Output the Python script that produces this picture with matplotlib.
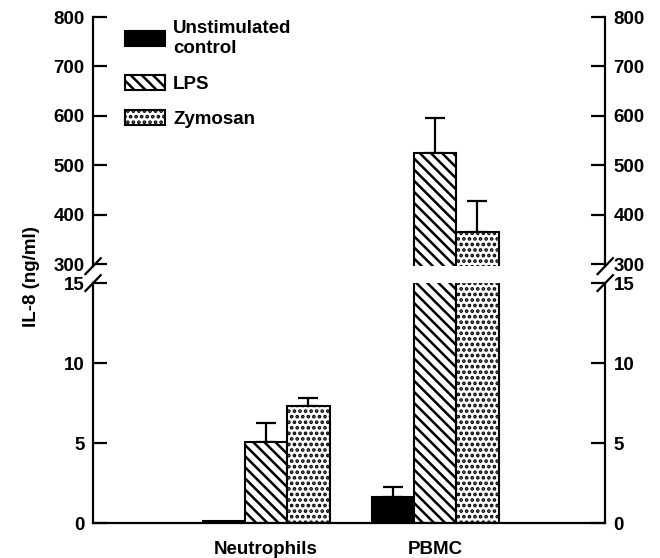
import numpy as np
import matplotlib.pyplot as plt

plt.rcParams['font.family'] = ['Liberation Sans', 'DejaVu Sans']
plt.rcParams['font.weight'] = 'bold'
plt.rcParams['hatch.linewidth'] = 1.8

# data
groups = ['Neutrophils', 'PBMC']
series = ['Unstimulated\ncontrol', 'LPS', 'Zymosan']
control = [0.1, 1.65]
control_err = [0.0, 0.6]
lps = [5.05, 525]
lps_err = [1.2, 70]
zymosan = [7.3, 365]
zymosan_err = [0.5, 62]

lower_ticks = [0, 5, 10, 15]
upper_ticks = [300, 400, 500, 600, 700, 800]

values = [control, lps, zymosan]
errors = [control_err, lps_err, zymosan_err]
hatches = [None, '\\\\\\', '...']
faces = ['black', 'white', 'white']

fig = plt.figure(figsize=(6.6, 5.58), dpi=100)
ax_top = fig.add_axes([0.141, 0.523, 0.776, 0.4465])
ax_bot = fig.add_axes([0.141, 0.0627, 0.776, 0.430])

x = np.arange(len(groups))
w = 0.25
handles = []
for ax in (ax_top, ax_bot):
    for i in range(3):
        pos = x + (i - 1) * w
        b = ax.bar(pos, values[i], w, color=faces[i], edgecolor='black',
                   linewidth=1.5, hatch=hatches[i], zorder=2)
        if ax is ax_top:
            handles.append(b)
        err = np.array(errors[i])
        keep = err > 0
        ax.errorbar(pos[keep], np.array(values[i])[keep],
                    yerr=[np.zeros(keep.sum()), err[keep]], fmt='none',
                    ecolor='black', elinewidth=1.6, capsize=7.5, capthick=1.6,
                    zorder=1)
    ax.set_xlim(-1.024, 2.006)
    ax.spines['top'].set_visible(False)
    for s in ax.spines.values():
        s.set_linewidth(1.6)
    ax.tick_params(axis='y', direction='in', length=10, width=1.6,
                   left=True, right=True, labelleft=True, labelright=True,
                   labelsize=13.5, pad=6)

ax_top.set_ylim(296, 800)
ax_top.set_yticks(upper_ticks)
ax_top.spines['bottom'].set_visible(False)
ax_top.set_xticks([])

ax_bot.set_ylim(0, 15)
ax_bot.set_yticks(lower_ticks)
ax_bot.set_xticks(x)
ax_bot.set_xticklabels(groups)
ax_bot.tick_params(axis='x', length=0, labelsize=13.5, pad=13)

# break marks
for ax, yy, dy in ((ax_top, 0, 0.032), (ax_bot, 1, 0.033)):
    for xx in (0, 1):
        ax.plot([xx - 0.015, xx + 0.015], [yy - dy, yy + dy], color='black',
                lw=1.6, transform=ax.transAxes, clip_on=False)

ax_top.legend(handles, series, loc='upper left', bbox_to_anchor=(0.03, 1.055),
              frameon=False, handlelength=2.1, handleheight=0.85,
              handletextpad=0.45, labelspacing=0.95, fontsize=13.5)

fig.text(0.048, 0.505, 'IL-8 (ng/ml)', rotation=90, ha='center', va='center',
         fontsize=13.5, fontweight='bold')

fig.savefig('out.png', dpi=100)
